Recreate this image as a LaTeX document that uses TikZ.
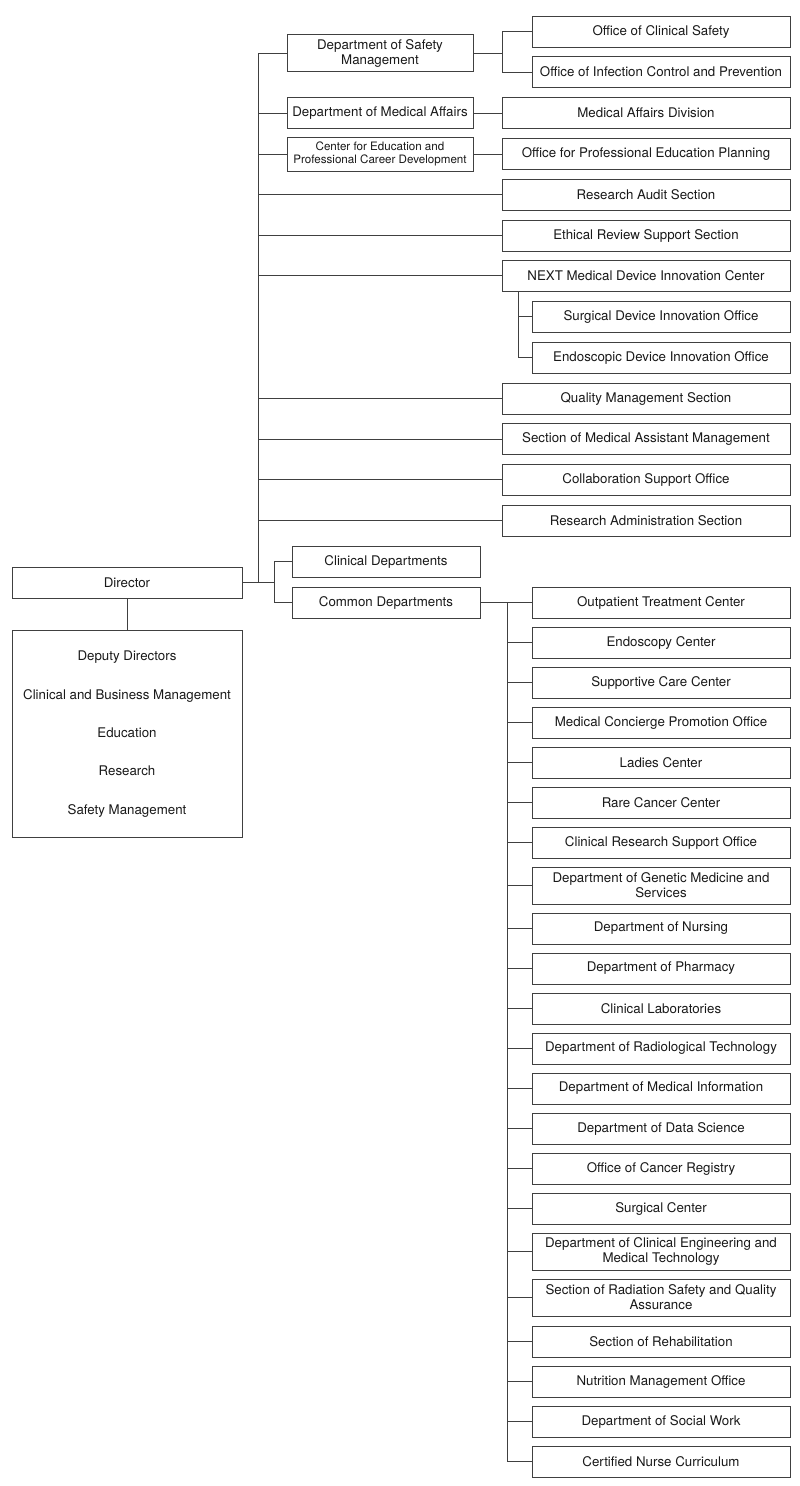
\documentclass[tikz,border=0pt]{standalone}
\usepackage{fontspec}
\setmainfont{TeX Gyre Heros}
\begin{document}
\begin{tikzpicture}[x=1pt,y=-1pt,
  box/.style={draw=black!75, line width=0.9pt, fill=white, inner sep=1pt, align=center,
    font=\fontsize{13.3}{15}\selectfont, text=black!90},
  wide/.style={box, minimum width=288pt, minimum height=31pt},
  narrow/.style={box, minimum width=258pt, minimum height=31pt},
  narrowtwo/.style={box, minimum width=258pt, minimum height=37pt},
  mid/.style={box, minimum width=186pt, minimum height=31pt},
  midb/.style={box, minimum width=188pt, minimum height=31pt},
  link/.style={draw=black!75, line width=0.9pt}]
\useasboundingbox (0,0) rectangle (800,1486);

% top group
\node[mid, minimum height=37pt] (dsm) at (380,53) {Department of Safety\\Management};
\node[narrow] (ocs) at (661,31.5) {Office of Clinical Safety};
\node[narrow] (oic) at (661,72) {Office of Infection Control and Prevention};
\node[mid] (dma) at (380,113) {Department of Medical Affairs};
\node[wide] (mad) at (646,113) {Medical Affairs Division};
\node[mid, minimum height=34pt, font=\fontsize{11.6}{13}\selectfont] (cep) at (380,154) {Center for Education and\\Professional Career Development};
\node[wide] (ope) at (646,154) {Office for Professional Education Planning};
\node[wide] (ras) at (646,194.5) {Research Audit Section};
\node[wide] (ers) at (646,235.5) {Ethical Review Support Section};
\node[wide] (next) at (646,275.5) {NEXT Medical Device Innovation Center};
\node[narrow] (sdi) at (661,316.5) {Surgical Device Innovation Office};
\node[narrow] (edi) at (661,357.5) {Endoscopic Device Innovation Office};
\node[wide] (qms) at (646,398.5) {Quality Management Section};
\node[wide] (mam) at (646,439) {Section of Medical Assistant Management};
\node[wide] (cso) at (646,479.5) {Collaboration Support Office};
\node[wide] (rad) at (646,520.5) {Research Administration Section};

% director
\node[box, minimum width=230pt, minimum height=31pt] (dir) at (127,582.5) {Director};
\node[box, minimum width=230pt, minimum height=207pt, font=\fontsize{13.3}{38.3}\selectfont] (dep) at (127,734)
  {Deputy Directors\\Clinical and Business Management\\Education\\Research\\Safety Management};
\node[midb] (clin) at (386,561.5) {Clinical Departments};
\node[midb] (comm) at (386,602.5) {Common Departments};

% common departments column
\node[narrow] (c1) at (661,602.5) {Outpatient Treatment Center};
\node[narrow] (c2) at (661,642.5) {Endoscopy Center};
\node[narrow] (c3) at (661,682.5) {Supportive Care Center};
\node[narrow] (c4) at (661,722.5) {Medical Concierge Promotion Office};
\node[narrow] (c5) at (661,762.5) {Ladies Center};
\node[narrow] (c6) at (661,802.5) {Rare Cancer Center};
\node[narrow] (c7) at (661,842.5) {Clinical Research Support Office};
\node[narrowtwo] (c8) at (661,885.5) {Department of Genetic Medicine and\\Services};
\node[narrow] (c9) at (661,928.5) {Department of Nursing};
\node[narrow] (c10) at (661,968.5) {Department of Pharmacy};
\node[narrow] (c11) at (661,1008.5) {Clinical Laboratories};
\node[narrow] (c12) at (661,1048.5) {Department of Radiological Technology};
\node[narrow] (c13) at (661,1088.5) {Department of Medical Information};
\node[narrow] (c14) at (661,1128.5) {Department of Data Science};
\node[narrow] (c15) at (661,1168.5) {Office of Cancer Registry};
\node[narrow] (c16) at (661,1208.5) {Surgical Center};
\node[narrowtwo] (c17) at (661,1251.5) {Department of Clinical Engineering and\\Medical Technology};
\node[narrowtwo] (c18) at (661,1297.5) {Section of Radiation Safety and Quality\\Assurance};
\node[narrow] (c19) at (661,1341.5) {Section of Rehabilitation};
\node[narrow] (c20) at (661,1381.5) {Nutrition Management Office};
\node[narrow] (c21) at (661,1421.5) {Department of Social Work};
\node[narrow] (c22) at (661,1461.5) {Certified Nurse Curriculum};

% junction coordinates
\coordinate (jdsm) at (502,53);
\coordinate (trunk) at (258,582.5);
\coordinate (jdir) at (274,582.5);
\coordinate (jnext) at (518,291);
\coordinate (jcomm) at (507,602.5);

% connectors
\draw[link] (dsm.east) -- (jdsm);
\draw[link] (ocs.west) -| (jdsm);
\draw[link] (oic.west) -| (jdsm);
\draw[link] (dma.east) -- (mad.west);
\draw[link] (cep.east) -- (ope.west);
\foreach \n in {dsm,dma,cep,ras,ers,next,qms,mam,cso,rad}
  \draw[link] (\n.west) -| (trunk);
\draw[link] (sdi.west) -| (jnext);
\draw[link] (edi.west) -| (jnext);
\draw[link] (dir.east) -- (jdir);
\draw[link] (clin.west) -| (jdir);
\draw[link] (comm.west) -| (jdir);
\draw[link] (dir.south) -- (dep.north);
\draw[link] (comm.east) -- (c1.west);
\foreach \i in {2,...,22}
  \draw[link] (c\i.west) -| (jcomm);
\end{tikzpicture}
\end{document}
